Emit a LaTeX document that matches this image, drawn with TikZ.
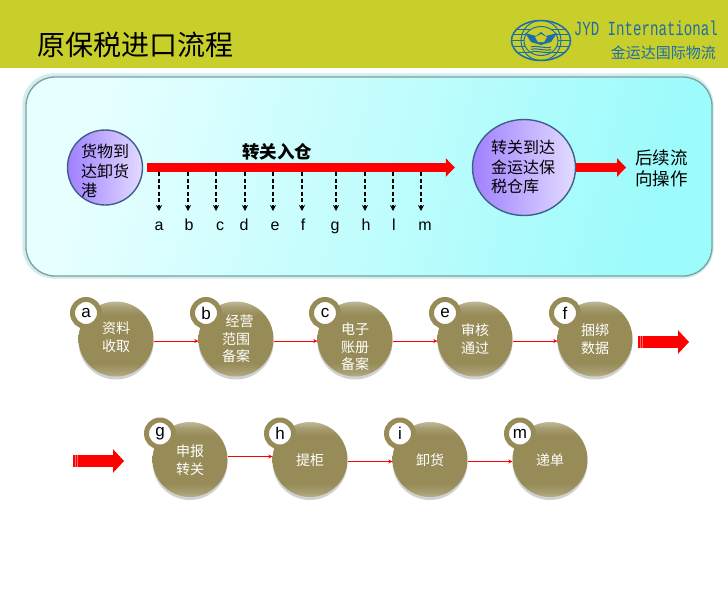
\documentclass[tikz,border=0pt]{standalone}
\usepackage{fontspec}
\setmainfont{Liberation Sans}
\newfontfamily\cjk{Noto Sans CJK SC}
\newfontfamily\logofont{Liberation Mono}
\usetikzlibrary{arrows.meta,shadows,shapes.geometric}
\definecolor{headcol}{HTML}{C8CE2A}
\definecolor{logocol}{HTML}{1F6DA8}
\definecolor{olivecol}{HTML}{978C58}
\definecolor{edgecol}{HTML}{3F5F8A}
\definecolor{portleft}{HTML}{A080FF}
\definecolor{portright}{HTML}{E2DCFF}
\definecolor{panelpale}{HTML}{E8FFFF}
\definecolor{paneldeep}{HTML}{9CFBFB}
\definecolor{paneledge}{HTML}{7F9F9F}
\definecolor{panelglow}{HTML}{CFEFEF}
\pgfdeclareverticalshading{stepshade}{100bp}{
  color(0bp)=(olivecol!70!white); color(25bp)=(olivecol!70!white); color(28bp)=(olivecol!85!white);
  color(34bp)=(olivecol); color(66bp)=(olivecol);
  color(71bp)=(olivecol!85!white); color(75bp)=(olivecol!60!white); color(100bp)=(olivecol!60!white)}
\tikzset{
  stepnode/.style={circle,minimum size=75pt,inner sep=0pt,shade,shading=stepshade,
    drop shadow={shadow xshift=0pt,shadow yshift=-3pt,fill=black,opacity=.18}},
  steptext/.style={text=white,align=center,font=\cjk\fontsize{14}{17.5}\selectfont,inner sep=0pt},
  badge/.style={circle,draw=olivecol,line width=5pt,fill=white,minimum size=27pt,inner sep=0pt,
    font=\fontsize{17}{17}\selectfont},
  steparrow/.style={draw=red,line width=1pt,-{Stealth[length=4pt,width=4pt]}},
  bigarrow/.style={draw=red,line width=9pt,-{Triangle[length=9pt,width=18pt]}},
  rowarrow/.style={draw=red,line width=12pt,-{Triangle[length=11pt,width=23pt]}},
  portnode/.style={ellipse,draw=edgecol,line width=1.4pt,inner sep=0pt,
    left color=portleft,right color=portright},
  porttext/.style={inner sep=0pt,align=left,font=\cjk\fontsize{16}{19.3}\selectfont},
  dasharrow/.style={line width=1.2pt,dash pattern=on 4pt off 2.5pt,-{Stealth[length=6pt,width=6pt]}}
}
\begin{document}
\begin{tikzpicture}[x=1pt,y=-1pt]
\useasboundingbox (0,0) rectangle (728,590);
\fill[white] (0,0) rectangle (728,590);
% header
\fill[headcol] (0,0) rectangle (728,68);
\node[inner sep=0pt,anchor=west,font=\cjk\fontsize{28}{28}\selectfont] (title) at (37,45) {原保税进口流程};
% logo
\begin{scope}[draw=logocol,line width=1pt]
\draw[line width=1.5pt] (541,40.5) ellipse (29.5 and 20);
\draw (541,40.5) ellipse (20 and 20);
\draw (516,29) -- (566,29) (513,34.5) -- (569,34.5) (512,40.5) -- (570,40.5) (513,46.5) -- (569,46.5) (516,52) -- (566,52);
\end{scope}
\fill[headcol] (541,41) ellipse (17 and 14.5);
\draw[logocol,line width=1pt] (541,41) ellipse (17 and 14.5);
\fill[logocol] (525,33) -- (536,36) -- (541,32) -- (546,36) -- (557,33) -- (551,42) -- (541,45) -- (531,42) -- cycle;
\fill[headcol] (535,37) -- (541,34) -- (547,37) -- (544,42) -- (538,42) -- cycle;
\foreach \y in {47,49.5,52}{
	\draw[logocol,line width=1pt] (531,\y) .. controls (536,\y-2) and (546,\y+2) .. (551,\y);}
\node[inner sep=0pt,anchor=east,text=logocol,font=\logofont\fontsize{20}{20}\selectfont,xscale=.706] (brand) at (718,28) {JYD International};
\node[inner sep=0pt,anchor=east,text=logocol,font=\cjk\fontsize{15}{15}\selectfont] (brandcn) at (716,53) {金运达国际物流};
% panel
\draw[rounded corners=31pt,line width=1.2pt,draw=panelglow,fill=panelglow] (23,74) rectangle (713,278);
\draw[rounded corners=29pt,line width=1.3pt,draw=paneledge,left color=panelpale,right color=paneldeep,shading angle=75] (26,77) rectangle (712,276);
\node[portnode,minimum width=75pt,minimum height=75pt] (port) at (105,167.5) {};
\node[porttext] (porttxt) at (105,171) {货物到\\达卸货\\港};
\node[portnode,minimum width=103pt,minimum height=96pt] (store) at (524,167.5) {};
\node[porttext] (storetxt) at (523,167) {转关到达\\金运达保\\税仓库};
\node[inner sep=0pt,align=left,font=\cjk\fontsize{17.5}{20.5}\selectfont] (next) at (661.5,168.5) {后续流\\向操作};
\draw[bigarrow,shorten <=4pt,shorten >=17pt] (port.east) -- (store.west);
\draw[bigarrow,shorten >=9pt] (store.east) -- (store.east -| next.west);
\node[inner sep=0pt,font=\cjk\bfseries\fontsize{17.5}{17.5}\selectfont] (transfer) at (277,152) {转关入仓};
\foreach \x/\lx/\t in {159/159/a,188/189/b,216/220/c,245/244/d,273/275/e,302/303/f,336/335/g,365/366/h,393/394/l,421/425/m}{
	\node[inner sep=0pt,font=\fontsize{16}{16}\selectfont,text height=11pt,text depth=3pt] (lab\t) at (\lx,226) {\t};
	\coordinate (top\t) at (\x,172);
	\coordinate (end\t) at (\x,211);
	\draw[dasharrow] (top\t) -- (end\t);}
% steps, first row and second row
\foreach \n/\x/\y/\ty/\txt in {a/116/339/337/{资料\\收取},b/236/339/339/{\hspace{7pt}经营\\范围\\备案},c/355/339/347/{电子\\账册\\备案},e/475/339/339/{审核\\通过},f/595/339/339/{捆绑\\数据},g/190/459.5/460/{申报\\转关},h/310/459.5/460/{提柜},i/430/459.5/460/{卸货},m/550/459.5/460/{递单}}{
	\node[stepnode] (\n) at (\x,\y) {};
	\node[steptext] (txt\n) at (\x,\ty) {\txt};
	\node[badge] (bad\n) at ([xshift=-30pt,yshift=26pt]\n.center) {\n};}
\foreach \p/\q in {a/b,b/c,c/e,e/f}{
	\draw[steparrow] ([yshift=-2pt]\p.east) -- ([yshift=-2pt]\q.west);}
\draw[steparrow] ([yshift=3pt]g.east) -- ([yshift=3pt]h.west);
\draw[steparrow] ([yshift=-2pt]h.east) -- ([yshift=-2pt]i.west);
\draw[steparrow] ([yshift=-2pt]i.east) -- ([yshift=-2pt]m.west);
% row change arrows
\coordinate (outa) at (638,342);
\coordinate (outb) at (689,342);
\coordinate (ina) at (73,461);
\coordinate (inb) at (124,461);
\draw[rowarrow] (outa) -- (outb);
\draw[rowarrow] (ina) -- (inb);
\foreach \x in {640,642}{
	\draw[white!40!red,line width=.6pt] (\x,336) -- (\x,348);}
\foreach \x in {75,77}{
	\draw[white!40!red,line width=.6pt] (\x,455) -- (\x,467);}
\end{tikzpicture}
\end{document}
